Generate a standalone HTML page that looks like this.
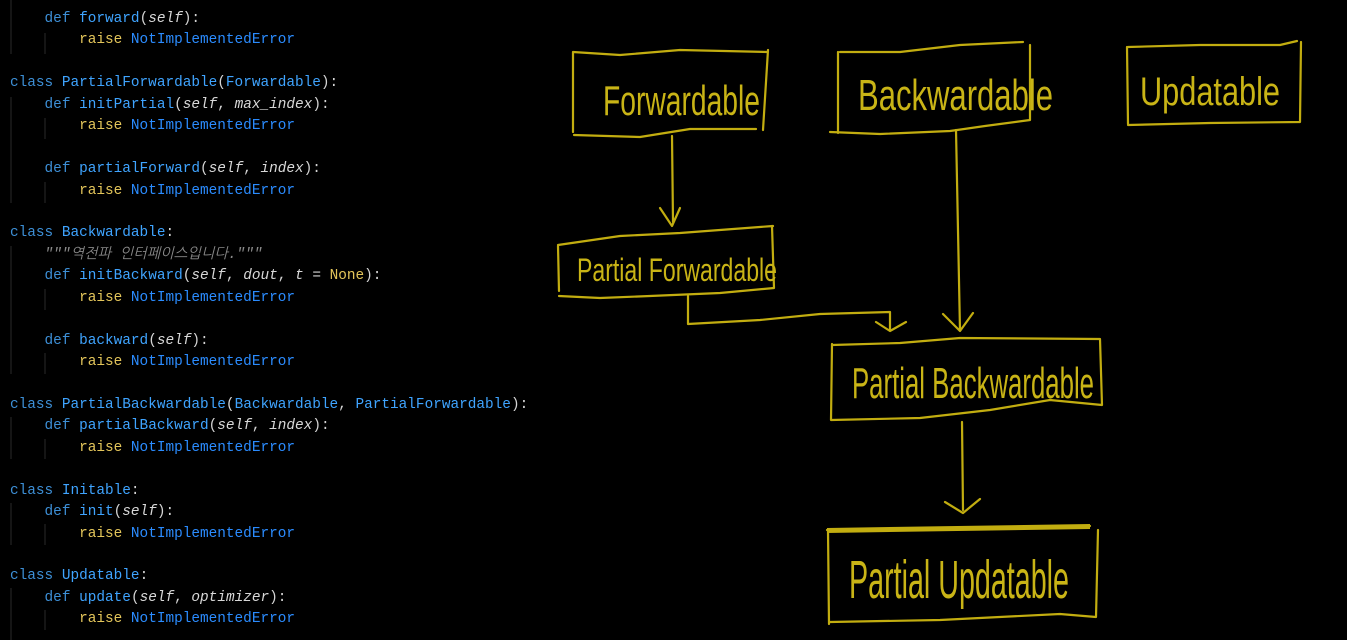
<!DOCTYPE html>
<html><head><meta charset="utf-8"><style>
body{margin:0;background:#000;width:1347px;height:640px;overflow:hidden;position:relative}
pre{position:absolute;left:10px;top:9px;margin:0;font-family:"Liberation Mono","NanumGothic",monospace;font-size:14.4px;line-height:21.43px;color:#d4d4d4}
.k{color:#3d8fd6}.n{color:#3fa4ff}.r{color:#e3c55a}.e{color:#2b8cff}.p{font-style:italic;color:#d8d8d8}.c{color:#8a8a8a;font-style:italic}.y{color:#e3c55a}
svg{position:absolute;left:0;top:0}
</style></head><body>
<pre>    <span class="k">def</span> <span class="n">forward</span>(<span class="p">self</span>):
        <span class="r">raise</span> <span class="e">NotImplementedError</span>

<span class="k">class</span> <span class="n">PartialForwardable</span>(<span class="n">Forwardable</span>):
    <span class="k">def</span> <span class="n">initPartial</span>(<span class="p">self</span>, <span class="p">max_index</span>):
        <span class="r">raise</span> <span class="e">NotImplementedError</span>

    <span class="k">def</span> <span class="n">partialForward</span>(<span class="p">self</span>, <span class="p">index</span>):
        <span class="r">raise</span> <span class="e">NotImplementedError</span>

<span class="k">class</span> <span class="n">Backwardable</span>:
    <span class="c">"""역전파 인터페이스입니다."""</span>
    <span class="k">def</span> <span class="n">initBackward</span>(<span class="p">self</span>, <span class="p">dout</span>, <span class="p">t</span> = <span class="y">None</span>):
        <span class="r">raise</span> <span class="e">NotImplementedError</span>

    <span class="k">def</span> <span class="n">backward</span>(<span class="p">self</span>):
        <span class="r">raise</span> <span class="e">NotImplementedError</span>

<span class="k">class</span> <span class="n">PartialBackwardable</span>(<span class="n">Backwardable</span>, <span class="n">PartialForwardable</span>):
    <span class="k">def</span> <span class="n">partialBackward</span>(<span class="p">self</span>, <span class="p">index</span>):
        <span class="r">raise</span> <span class="e">NotImplementedError</span>

<span class="k">class</span> <span class="n">Initable</span>:
    <span class="k">def</span> <span class="n">init</span>(<span class="p">self</span>):
        <span class="r">raise</span> <span class="e">NotImplementedError</span>

<span class="k">class</span> <span class="n">Updatable</span>:
    <span class="k">def</span> <span class="n">update</span>(<span class="p">self</span>, <span class="p">optimizer</span>):
        <span class="r">raise</span> <span class="e">NotImplementedError</span></pre>
<svg width="1347" height="640" viewBox="0 0 1347 640">
<g stroke="#2a2a2a" stroke-width="1">
<line x1="11" y1="0" x2="11" y2="54"/><line x1="45" y1="33" x2="45" y2="54"/>
<line x1="11" y1="97" x2="11" y2="203"/><line x1="45" y1="118" x2="45" y2="139"/><line x1="45" y1="182" x2="45" y2="203"/>
<line x1="11" y1="246" x2="11" y2="374"/><line x1="45" y1="289" x2="45" y2="310"/><line x1="45" y1="353" x2="45" y2="374"/>
<line x1="11" y1="417" x2="11" y2="459"/><line x1="45" y1="439" x2="45" y2="459"/>
<line x1="11" y1="503" x2="11" y2="545"/><line x1="45" y1="524" x2="45" y2="545"/>
<line x1="11" y1="588" x2="11" y2="640"/><line x1="45" y1="610" x2="45" y2="630"/>
</g>
<g fill="none" stroke="#c2ad10" stroke-width="2.2" stroke-linecap="round" stroke-linejoin="round">
<path d="M573 52 L620 55 L680 50 L768 52 M768 50 L763 130 M756 129 L690 129 L640 137 L574 135 M573 52 L573 132"/>
<path d="M840 52 L900 52 L960 45 L1023 42 M1030 45 L1030 120 L985 126 L950 131 L880 134 L830 132 M838 52 L838 133"/>
<path d="M1128 47 L1200 45 L1280 45 L1297 41 M1301 42 L1300 122 L1210 123 L1128 125 M1127 47 L1128 124"/>
<path d="M558 245 L620 236 L680 233 L773 226 M772 226 L774 288 L720 293 L650 296 L600 298 L559 296 M558 246 L559 291"/>
<path d="M672 136 L673 222 M660 208 L672 226 L680 208"/>
<path d="M956 130 L960 331 M943 314 L960 331 L973 313"/>
<path d="M688 296 L688 324 L760 320 L820 314 L890 312 L890 330 M876 322 L890 331 L906 322"/>
<path d="M832 345 L900 343 L960 338 L1100 339 L1102 405 L1050 400 L990 410 L920 418 L831 420 M832 344 L831 420"/>
<path d="M962 422 L963 510 M945 502 L963 513 L980 499"/>
<path d="M827 530 L1090 526 M1098 530 L1096 617 L1060 614 L940 620 L830 622 M828 531 L829 624"/>
</g>
<path d="M827 528 L1090 524 L1090 529 L827 533 Z" fill="#c2ad10"/>
<g fill="#c9b416" font-family="Liberation Sans Narrow, Liberation Sans, sans-serif">
<text x="603" y="115" font-size="42" textLength="157" lengthAdjust="spacingAndGlyphs">Forwardable</text>
<text x="858" y="110" font-size="44" textLength="195" lengthAdjust="spacingAndGlyphs">Backwardable</text>
<text x="1140" y="105" font-size="40" textLength="140" lengthAdjust="spacingAndGlyphs">Updatable</text>
<text x="577" y="281" font-size="32" textLength="200" lengthAdjust="spacingAndGlyphs">Partial Forwardable</text>
<text x="852" y="398" font-size="44" textLength="242" lengthAdjust="spacingAndGlyphs">Partial Backwardable</text>
<text x="849" y="598" font-size="54" textLength="220" lengthAdjust="spacingAndGlyphs">Partial Updatable</text>
</g>
</svg>
</body></html>
